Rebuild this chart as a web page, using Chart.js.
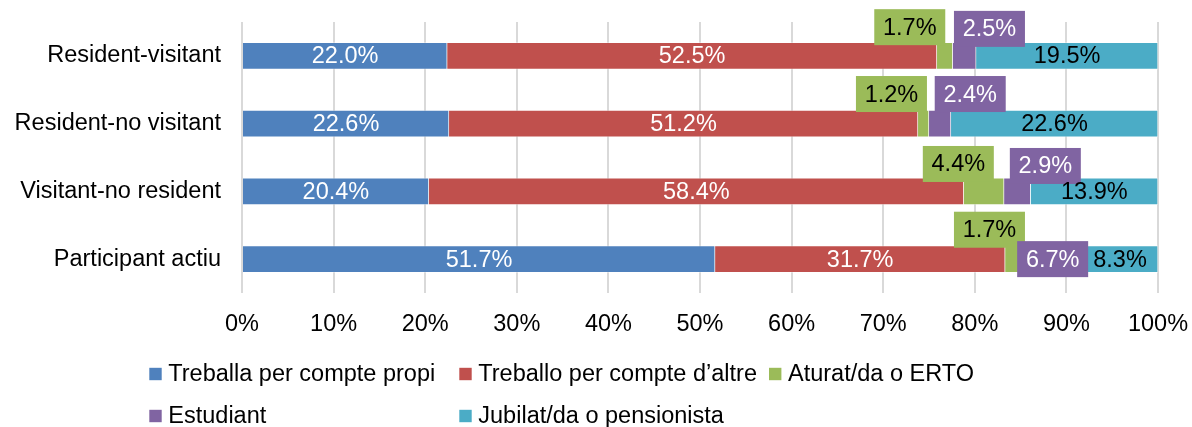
<!DOCTYPE html>
<html><head><meta charset="utf-8">
<script src="https://cdn.jsdelivr.net/npm/chart.js@4.4.1/dist/chart.umd.min.js"></script>
<style>html,body{margin:0;padding:0;background:#fff}#wrap{width:1192px;height:427px;position:relative}</style>
</head><body><div id="wrap"><canvas id="c" width="1192" height="427"></canvas></div>
<script>
// ---- data ----
const categories = ['Resident-visitant', 'Resident-no visitant', 'Visitant-no resident', 'Participant actiu'];
const seriesNames = ['Treballa per compte propi', 'Treballo per compte d\u2019altre', 'Aturat/da o ERTO', 'Estudiant', 'Jubilat/da o pensionista'];
const propi     = [22.0, 22.6, 20.4, 51.7];
const altre     = [52.5, 51.2, 58.4, 31.7];
const aturat    = [1.7, 1.2, 4.4, 1.7];
const estudiant = [2.5, 2.4, 2.9, 6.7];
const jubilat   = [19.5, 22.6, 13.9, 8.3];
const xTickLabels = ['0%','10%','20%','30%','40%','50%','60%','70%','80%','90%','100%'];

// ---- styling / layout (not data) ----
const colors = ['#4F81BD', '#C0504D', '#9BBB59', '#8064A2', '#4BACC6'];
const labelColors = ['#ffffff', '#ffffff', '#000000', '#ffffff', '#000000'];
const FONT = '"Liberation Sans", Arial, sans-serif';
const FS = 23.5;
// callout boxes for the small series (position along axis in %, vertical offset in px)
const callouts = {
  2: { x: [72.9, 70.9, 78.2, 81.6], dy: [-28.7, -29.6, -27.4, -29.4] },
  3: { x: [81.6, 79.5, 87.7, 88.5], dy: [-27.0, -29.6, -25.4, 0] }
};
const BOX_W = 71, BOX_H = 36;

const raw = [propi, altre, aturat, estudiant, jubilat];
const totals = categories.map((_, i) => raw.reduce((s, arr) => s + arr[i], 0));
const shares = raw.map(arr => arr.map((v, i) => v / totals[i] * 100));

const datasets = seriesNames.map((name, k) => ({
  label: name,
  data: shares[k],
  backgroundColor: colors[k],
  borderColor: 'rgba(255,255,255,0.35)',
  borderWidth: 1,
  barThickness: 27
}));

const labelPlugin = {
  id: 'labels',
  afterDatasetsDraw(chart) {
    const ctx = chart.ctx;
    const xs = chart.scales.x;
    ctx.save();
    ctx.font = FS + 'px ' + FONT;
    ctx.textAlign = 'center';
    ctx.textBaseline = 'middle';
    chart.data.datasets.forEach((ds, k) => {
      const meta = chart.getDatasetMeta(k);
      meta.data.forEach((bar, i) => {
        const txt = raw[k][i].toFixed(1) + '%';
        if (callouts[k]) {
          const cx = xs.getPixelForValue(callouts[k].x[i]);
          const cy = bar.y + callouts[k].dy[i];
          ctx.fillStyle = colors[k];
          ctx.fillRect(cx - BOX_W / 2, cy - BOX_H / 2, BOX_W, BOX_H);
          ctx.fillStyle = labelColors[k];
          ctx.fillText(txt, cx, cy + 1);
        } else {
          ctx.fillStyle = labelColors[k];
          ctx.fillText(txt, (bar.x + bar.base) / 2, bar.y + 1);
        }
      });
    });
    ctx.restore();
  },
  afterDraw(chart) {
    const ctx = chart.ctx;
    const pos = [[149.3, 374], [459.3, 374], [769, 374], [149.3, 416], [459.3, 416]];
    ctx.save();
    ctx.font = FS + 'px ' + FONT;
    ctx.textAlign = 'left';
    ctx.textBaseline = 'middle';
    seriesNames.forEach((name, k) => {
      const [x, y] = pos[k];
      ctx.fillStyle = colors[k];
      ctx.fillRect(x, y - 6.2, 12.4, 12.4);
      ctx.fillStyle = '#000';
      ctx.fillText(name, x + 19, y + 1);
    });
    ctx.restore();
  }
};

new Chart(document.getElementById('c'), {
  type: 'bar',
  data: { labels: categories, datasets },
  options: {
    responsive: false,
    devicePixelRatio: 1,
    animation: false,
    indexAxis: 'y',
    layout: { padding: { top: 22, right: 34, left: 0, bottom: 0 } },
    plugins: { legend: { display: false }, tooltip: { enabled: false } },
    scales: {
      x: {
        stacked: true, min: 0, max: 100,
        grid: { color: '#D9D9D9', lineWidth: 2, drawTicks: false },
        border: { display: false },
        ticks: { stepSize: 10, padding: 17, color: '#000', font: { family: FONT, size: FS },
                 callback: (v) => xTickLabels[Math.round(v / 10)] },
        afterFit(s) { s.height = 134; s.paddingLeft = 0; s.paddingRight = 0; }
      },
      y: {
        stacked: true,
        grid: { display: false, drawTicks: false },
        border: { display: false },
        ticks: { padding: 21, color: '#000', font: { family: FONT, size: FS } },
        afterFit(s) { s.width = 242; s.paddingTop = 0; s.paddingBottom = 0; }
      }
    }
  },
  plugins: [labelPlugin]
});
</script>
</body></html>
